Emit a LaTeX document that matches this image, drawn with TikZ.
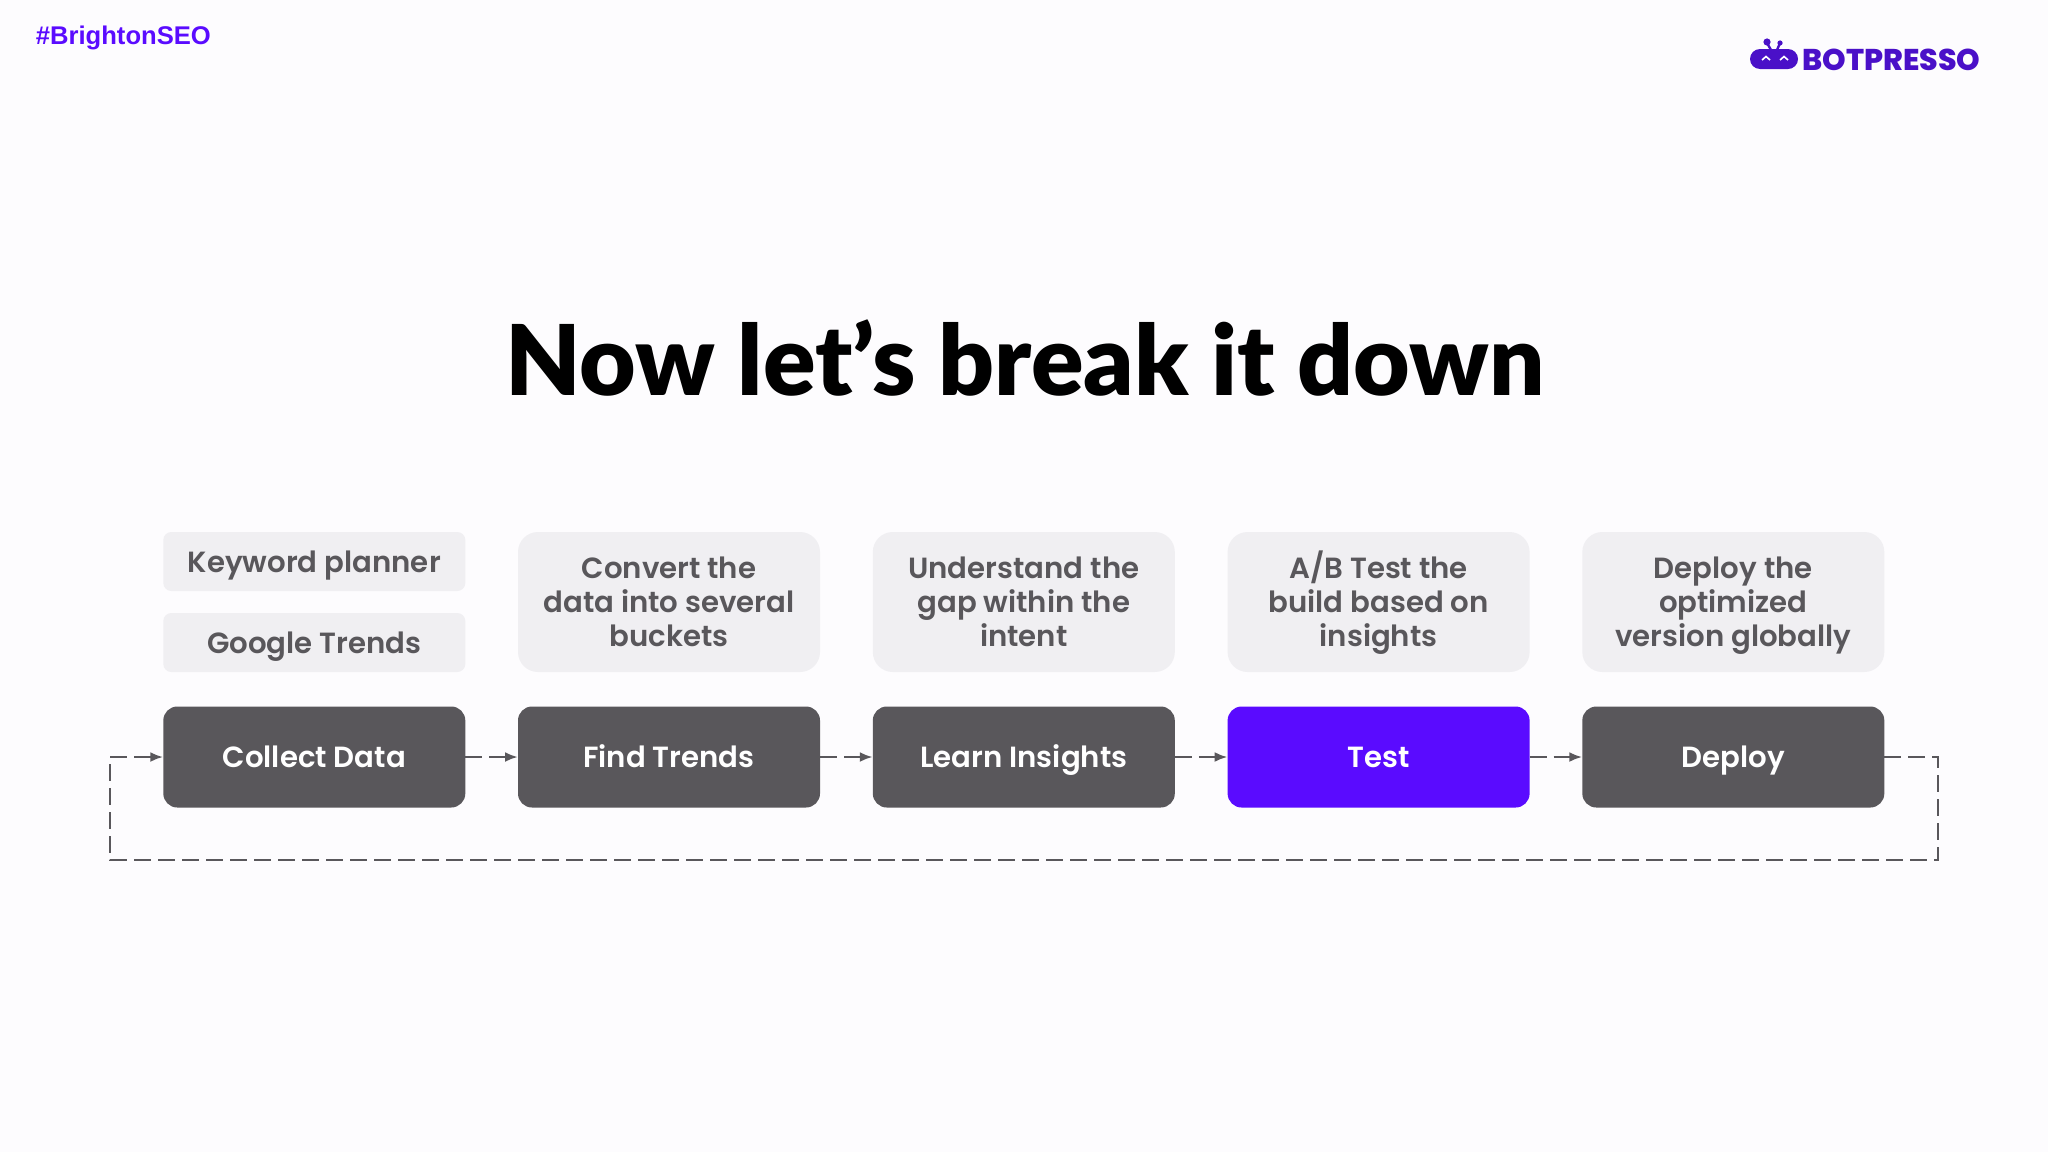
\documentclass[tikz,border=0pt]{standalone}
\usepackage{fontspec}
\usetikzlibrary{arrows.meta}
\setmainfont{Poppins}[BoldFont={Poppins SemiBold}]
\newfontfamily\titlefont{Lato}[BoldFont={Lato Black}]
\newfontfamily\tagfont{Liberation Sans}
\newfontfamily\logofont{Poppins}[BoldFont={Poppins ExtraBold}]
\definecolor{pagebg}{HTML}{FDFCFE}
\definecolor{slate}{HTML}{59575B}
\definecolor{pale}{HTML}{F0EFF2}
\definecolor{violet}{HTML}{5A0BFF}
\definecolor{logoviolet}{HTML}{4A10C8}
\newcommand{\ls}[1]{\rule[-3pt]{0pt}{16.5pt}\smash{#1}}
\tikzset{
  x=0.5pt,y=-0.5pt,
  base/.style={inner sep=0pt,outer sep=0pt,align=center,font=\fontsize{14.6}{17}\selectfont\bfseries},
  stepbox/.style={base,rounded corners=7pt,minimum width=151pt,minimum height=50.5pt,text=white,fill=slate},
  testbox/.style={stepbox,fill=violet},
  notebox/.style={base,rounded corners=10pt,minimum width=151pt,minimum height=70pt,text=slate,fill=pale},
  smallbox/.style={base,rounded corners=4pt,minimum width=151pt,minimum height=29.5pt,text=slate,fill=pale},
  flow/.style={draw=slate,line width=1.35pt,dash pattern=on 8.5pt off 3.5pt},
  flowtip/.style={-{Latex[length=6.5pt,width=5pt]}},
}
\begin{document}
\begin{tikzpicture}
\useasboundingbox (0,0) rectangle (2048,1152);
\fill[pagebg] (0,0) rectangle (2048,1152);
\node[inner sep=0pt,text=violet,anchor=west,font=\tagfont\fontsize{12.8}{16}\selectfont\bfseries] (tag) at (35.5,38) {\#BrightonSEO};
\node[inner sep=0pt,font=\titlefont\fontsize{48.8}{60}\selectfont\bfseries] (title) at (1025,358) {Now let’s break it down};
% logo
\fill[logoviolet] (1750,49) [rounded corners=5pt] rectangle (1798,69);
\draw[logoviolet,line width=1.2pt] (1767,43) -- (1771,50) (1780,43) -- (1777,50);
\fill[logoviolet] (1767,42) circle (3.6) (1780,43) circle (2.6);
\draw[white,line width=0.8pt] (1762,60) -- (1766,56.5) -- (1770,60) (1780,60) -- (1784,56.5) -- (1788,60);
\node[inner sep=0pt,anchor=west,text=logoviolet,font=\logofont\fontsize{15}{16}\selectfont\bfseries] (brand) at (1802,59.5) {BOTPRESSO};
% notes
\node[smallbox] (n1a) at (314.3,561.5) {\ls{Keyword planner}};
\node[smallbox] (n1b) at (314.3,642.5) {\ls{Google Trends}};
\node[notebox] (n2) at (669,602) {\ls{Convert the}\\\ls{data into several}\\\ls{buckets}};
\node[notebox] (n3) at (1023.8,602) {\ls{Understand the}\\\ls{gap within the}\\\ls{intent}};
\node[notebox] (n4) at (1378.6,602) {\ls{A/B Test the}\\\ls{build based on}\\\ls{insights}};
\node[notebox] (n5) at (1733.3,602) {\ls{Deploy the}\\\ls{optimized}\\\ls{version globally}};
% steps
\node[stepbox] (s1) at (314.3,757) {\ls{Collect Data}};
\node[stepbox] (s2) at (669,757) {\ls{Find Trends}};
\node[stepbox] (s3) at (1023.8,757) {\ls{Learn Insights}};
\node[testbox] (s4) at (1378.6,757) {\ls{Test}};
\node[stepbox] (s5) at (1733.3,757) {\ls{Deploy}};
% connectors
\draw[flow,flowtip] (s1) -- (s2);
\draw[flow,flowtip] (s2) -- (s3);
\draw[flow,flowtip] (s3) -- (s4);
\draw[flow,flowtip] (s4) -- (s5);
\coordinate (c1) at (1938,757);
\coordinate (c2) at (1938,860);
\coordinate (c3) at (110,860);
\coordinate (c4) at (110,757);
\draw[flow,flowtip] (s5) -- (c1) -- (c2) -- (c3) -- (c4) -- (s1);
\end{tikzpicture}
\end{document}
